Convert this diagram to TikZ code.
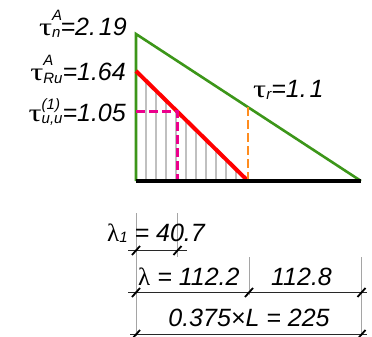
\documentclass[tikz,border=0pt]{standalone}
\usepackage{fontspec}
\setmainfont{Liberation Sans}
\newfontfamily\grk{Liberation Serif}
\usetikzlibrary{calc}
\definecolor{cgreen}{RGB}{60,150,25}
\definecolor{corange}{RGB}{255,140,30}
\definecolor{chatch}{RGB}{192,192,192}
\definecolor{cext}{RGB}{165,165,165}
\definecolor{cdim}{RGB}{40,40,40}
\newcommand\tscr[3]{{\fontsize{15}{15}\selectfont\rlap{\raisebox{#3}{#1}}\raisebox{-2pt}{#2}}}
\newcommand\tauglyph{{\grk\upshape\scalebox{1.3}[1]{τ}}}
\begin{document}
\begin{tikzpicture}[x=1pt,y=-1pt,
  lab/.style={inner sep=0pt, font=\fontsize{25}{25}\selectfont\itshape},
  hatchline/.style={chatch, line width=1.5pt},
  greenline/.style={cgreen, line width=2.6pt},
  redline/.style={red, line width=4pt},
  magline/.style={magenta, line width=3pt, dash pattern=on 9pt off 4pt},
  orline/.style={corange, line width=2.6pt, dash pattern=on 9pt off 4pt},
  baseline/.style={black, line width=3.2pt},
  extline/.style={cext, line width=1pt},
  dimline/.style={cdim, line width=1.1pt},
  dimtick/.style={black, line width=1.8pt}]
\useasboundingbox (0,0) rectangle (372,337);
% key points
\coordinate (O) at (136,181);
\coordinate (G) at (136,34);
\coordinate (E) at (361,181);
\coordinate (R) at (136,71);
\coordinate (Rz) at (248,181);
\coordinate (Ot) at (248,107.2);
\coordinate (Ml) at (136,111);
\coordinate (M) at (177,111);
\coordinate (Mb) at (177,181);
% hatching under red line
\foreach \x in {146,156,...,236}
  \draw[hatchline] (\x,181) -- (\x,{71+(\x-136)*110/112});
% diagrams
\draw[greenline] (O) -- (G) -- (E);
\draw[redline] (R) -- (Rz);
\draw[magline] (Ml) -- (M) -- (Mb);
\draw[orline] (Ot) -- (Rz);
\draw[baseline] (O) -- (E);
% labels
\node[lab, anchor=base east] (tn) at (127,35.5) {\tauglyph\tscr{A}{n}{15pt}=2.\kern3pt19};
\node[lab, anchor=base east] (tru) at (126,81) {\tauglyph\tscr{A}{Ru}{15pt}=1.64};
\node[lab, anchor=base east] (tuu) at (126,121) {\tauglyph\tscr{(1)}{u,u}{12pt}=1.05};
\node[lab, anchor=base west] (tr) at (253,97) {\tauglyph\tscr{}{r}{0pt}=1.\kern3pt1};
% dimension extension lines
\coordinate (x0t) at (136,213);   \coordinate (x0b) at (136,336);
\coordinate (x1t) at (177.5,213); \coordinate (x1b) at (177.5,257);
\coordinate (x2t) at (249,257);   \coordinate (x2b) at (249,295);
\coordinate (x3t) at (361.5,257); \coordinate (x3b) at (361.5,336);
\draw[extline] (x0t) -- (x0b);
\draw[extline] (x1t) -- (x1b);
\draw[extline] (x2t) -- (x2b);
\draw[extline] (x3t) -- (x3b);
% dimension lines
\coordinate (d1a) at (128,250.5); \coordinate (d1b) at (187,250.5);
\coordinate (d2a) at (128,292.5); \coordinate (d2b) at (367,292.5);
\coordinate (d3a) at (130,334.5); \coordinate (d3b) at (367,334.5);
\draw[dimline] (d1a) -- (d1b);
\draw[dimline] (d2a) -- (d2b);
\draw[dimline] (d3a) -- (d3b);
% ticks
\foreach \px/\py in {136/250.5,177.5/250.5,136/292.5,249/292.5,361.5/292.5,136/334.5,361.5/334.5}
  \draw[dimtick] (\px-4,\py+4.5) -- (\px+4,\py-4.5);
% dimension texts
\node[lab, anchor=base west] (l1) at (107,241) {{\grk\upshape λ}{\fontsize{15}{15}\selectfont\raisebox{-1pt}{1}} = 40.7};
\node[lab, anchor=base west] (l2) at (138,285) {{\grk\upshape λ} = 112.2};
\node[lab, anchor=base] (l3) at (301.5,285) {112.8};
\node[lab, anchor=base] (l4) at (249,326) {0.375×L = 225};
\end{tikzpicture}
\end{document}
